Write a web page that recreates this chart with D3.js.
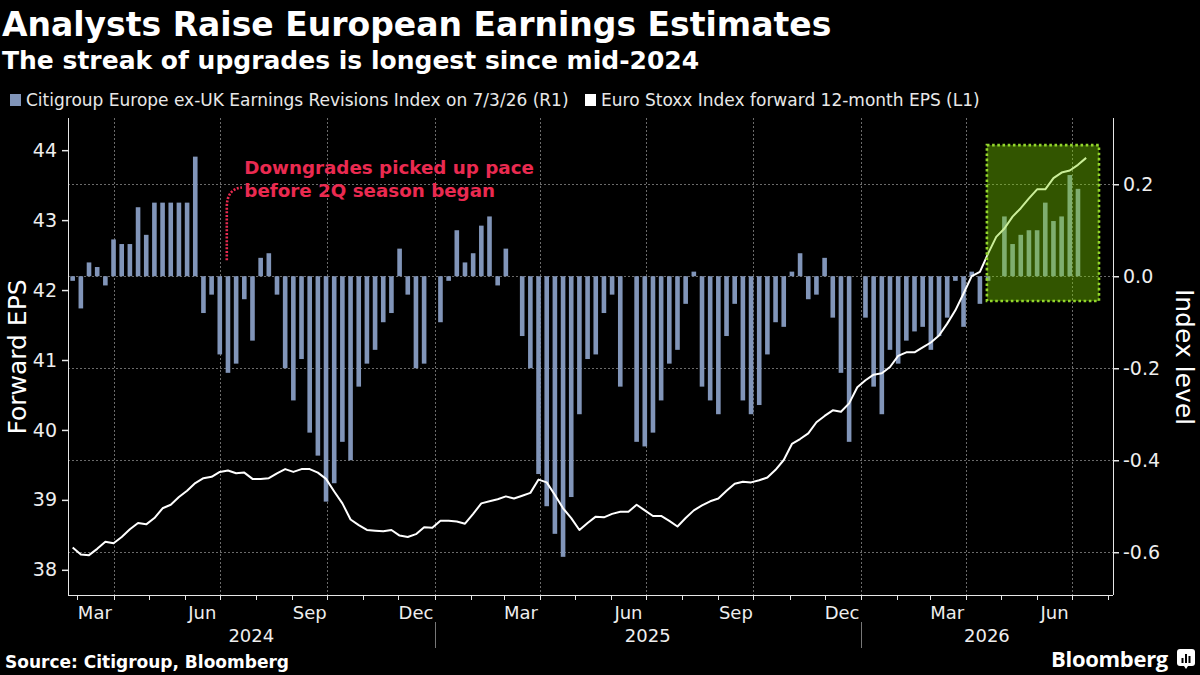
<!DOCTYPE html>
<html>
<head>
<meta charset="utf-8">
<style>
  body { margin: 0; background: #000; }
  svg { display: block; }
  text { font-family: "DejaVu Sans", sans-serif; fill: #fff; }
  .logo { font-family: "Open Sans", sans-serif; font-weight: 700; }
</style>
</head>
<body>
<script src="https://cdn.jsdelivr.net/npm/d3@7"></script>
<script>
// weekly observations, first week starting Monday 26 Feb 2024
var firstWeek = "2024-02-26";

// Citigroup Europe ex-UK Earnings Revisions Index (right axis)
var revisions = [
  -0.01, -0.07, 0.03, 0.02, -0.02, 0.08, 0.07, 0.07, 0.15, 0.09,
  0.16, 0.16, 0.16, 0.16, 0.16, 0.26, -0.08, -0.04, -0.17, -0.21,
  -0.19, -0.05, -0.14, 0.04, 0.05, -0.04, -0.20, -0.27, -0.18, -0.34,
  -0.39, -0.49, -0.45, -0.36, -0.40, -0.24, -0.19, -0.16, -0.10, -0.08,
  0.06, -0.04, -0.20, -0.19, null, -0.10, -0.01, 0.10, 0.03, 0.05,
  0.11, 0.13, -0.02, 0.06, null, -0.13, -0.20, -0.43, -0.50, -0.56,
  -0.61, -0.48, -0.30, -0.18, -0.17, -0.08, -0.04, -0.24, null, -0.36,
  -0.37, -0.34, -0.27, -0.19, -0.16, -0.06, 0.01, -0.24, -0.27, -0.30,
  -0.13, -0.06, -0.27, -0.30, -0.28, -0.17, -0.10, -0.11, 0.01, 0.05,
  -0.05, -0.04, 0.04, -0.09, -0.21, -0.36, null, -0.09, -0.24, -0.30,
  -0.16, -0.19, -0.14, -0.12, -0.11, -0.16, -0.13, -0.09, -0.01, -0.11,
  0.01, -0.06, -0.01, null, 0.13, 0.07, 0.09, 0.10, 0.10, 0.16,
  0.12, 0.13, 0.22, 0.19
];

// Euro Stoxx forward 12-month EPS (left axis)
var eps = [
  38.32, 38.22, 38.21, 38.30, 38.40, 38.38, 38.47, 38.58, 38.67, 38.65,
  38.74, 38.88, 38.93, 39.04, 39.13, 39.24, 39.31, 39.33, 39.40, 39.42,
  39.38, 39.39, 39.30, 39.30, 39.31, 39.38, 39.44, 39.40, 39.44, 39.44,
  39.39, 39.30, 39.12, 38.95, 38.72, 38.64, 38.57, 38.56, 38.55, 38.57,
  38.49, 38.47, 38.51, 38.61, 38.60, 38.70, 38.70, 38.69, 38.66, 38.80,
  38.95, 38.98, 39.01, 39.05, 39.02, 39.06, 39.10, 39.29, 39.25, 39.07,
  38.88, 38.74, 38.57, 38.67, 38.76, 38.75, 38.80, 38.83, 38.83, 38.93,
  38.85, 38.77, 38.77, 38.70, 38.62, 38.74, 38.85, 38.92, 38.98, 39.02,
  39.13, 39.23, 39.26, 39.25, 39.28, 39.32, 39.43, 39.57, 39.80, 39.87,
  39.95, 40.11, 40.20, 40.28, 40.26, 40.38, 40.61, 40.71, 40.79, 40.81,
  40.90, 41.06, 41.11, 41.11, 41.18, 41.25, 41.35, 41.52, 41.71, 41.95,
  42.20, 42.26, 42.52, 42.76, 42.88, 43.05, 43.17, 43.31, 43.44, 43.44,
  43.60, 43.68, 43.71, 43.79, 43.89
];

var leftTicks = [38, 39, 40, 41, 42, 43, 44];
var rightTicks = [-0.6, -0.4, -0.2, 0, 0.2];
var monthLabels = ["Mar", "Jun", "Sep", "Dec"];
var years = ["2024", "2025", "2026"];

var title = "Analysts Raise European Earnings Estimates";
var subtitle = "The streak of upgrades is longest since mid-2024";
var legendLabels = [
  "Citigroup Europe ex-UK Earnings Revisions Index on 7/3/26 (R1)",
  "Euro Stoxx Index forward 12-month EPS (L1)"
];
var note = ["Downgrades picked up pace", "before 2Q season began"];
var source = "Source: Citigroup, Bloomberg";

// highlighted stretch of upgrades
var highlight = { from: "2026-04-19", to: "2026-07-24", top: 0.285, bottom: -0.054 };

var width = 1200,
    height = 675;

var parse = d3.utcParse("%Y-%m-%d");
var start = parse(firstWeek);
var week = function(i) { return d3.utcDay.offset(start, 7 * i); };

var barColor = "#8195b9",
    gridColor = "#6a6a6a",
    axisColor = "#e6e6e6",
    noteColor = "#ea2a50";

var plot = { left: 68, right: 1113, top: 118, bottom: 595 };

var x = d3.scaleUtc()
    .domain([parse("2024-02-22"), parse("2026-08-05")])
    .range([plot.left, plot.right]);

var yL = d3.scaleLinear()
    .domain([37.64, 44.46])
    .range([plot.bottom, plot.top]);

var yR = d3.scaleLinear()
    .domain([-0.693, 0.344])
    .range([plot.bottom, plot.top]);

var svg = d3.select("body").append("svg")
    .attr("width", width)
    .attr("height", height)
    .style("background", "#000");

// titles
svg.append("text")
    .attr("x", 2).attr("y", 36)
    .style("font-size", "33px").style("font-weight", 700)
    .text(title);

svg.append("text")
    .attr("x", 2).attr("y", 69)
    .style("font-size", "25px").style("font-weight", 700)
    .text(subtitle);

// legend
var legendX = [10, 585];
var legendColors = [barColor, "#ffffff"];
var legend = svg.append("g").selectAll("g")
    .data(legendLabels)
  .enter().append("g")
    .attr("transform", function(d, i) { return "translate(" + legendX[i] + ",94)"; });

legend.append("rect")
    .attr("width", 11).attr("height", 12)
    .attr("fill", function(d, i) { return legendColors[i]; });

legend.append("text")
    .attr("x", 16).attr("y", 12)
    .style("font-size", "17px")
    .style("fill", "#e8e8e8")
    .text(function(d) { return d; });

// grid
var grid = svg.append("g")
    .attr("stroke", gridColor)
    .attr("stroke-width", 1)
    .attr("stroke-dasharray", "2,2");

grid.selectAll("line.h")
    .data(rightTicks)
  .enter().append("line")
    .attr("class", "h")
    .attr("x1", plot.left).attr("x2", plot.right)
    .attr("y1", function(d) { return Math.round(yR(d)) + 0.5; })
    .attr("y2", function(d) { return Math.round(yR(d)) + 0.5; });

var quarters = d3.utcMonth.every(3).range(parse("2024-03-01"), x.domain()[1]);
grid.selectAll("line.v")
    .data(quarters)
  .enter().append("line")
    .attr("class", "v")
    .attr("x1", function(d) { return Math.round(x(d)) + 0.5; })
    .attr("x2", function(d) { return Math.round(x(d)) + 0.5; })
    .attr("y1", plot.top).attr("y2", plot.bottom);

// revision bars
var bars = revisions
    .map(function(v, i) { return { date: week(i), value: v }; })
    .filter(function(d) { return d.value !== null; });

svg.append("g").selectAll("rect")
    .data(bars)
  .enter().append("rect")
    .attr("x", function(d) { return x(d.date) - 2.3; })
    .attr("width", 4.6)
    .attr("y", function(d) { return yR(Math.max(0, d.value)); })
    .attr("height", function(d) { return Math.abs(yR(d.value) - yR(0)); })
    .attr("fill", barColor);

// EPS line
var epsData = eps.map(function(v, i) { return { date: week(i), value: v }; });

svg.append("path")
    .datum(epsData)
    .attr("fill", "none")
    .attr("stroke", "#fff")
    .attr("stroke-width", 2)
    .attr("stroke-linejoin", "round")
    .attr("d", d3.line()
      .x(function(d) { return x(d.date); })
      .y(function(d) { return yL(d.value); }));

// highlight box
var hx0 = x(parse(highlight.from)), hx1 = x(parse(highlight.to));
var hy0 = yR(highlight.top), hy1 = yR(highlight.bottom);

svg.append("rect")
    .attr("x", hx0).attr("y", hy0)
    .attr("width", hx1 - hx0).attr("height", hy1 - hy0)
    .attr("fill", "rgb(125,212,0)")
    .attr("fill-opacity", 0.4);

svg.append("rect")
    .attr("x", hx0).attr("y", hy0)
    .attr("width", hx1 - hx0).attr("height", hy1 - hy0)
    .attr("fill", "none")
    .attr("stroke", "#93d62c")
    .attr("stroke-width", 2.6)
    .attr("stroke-dasharray", "2.6,2.6");

// annotation
var ax = x(parse("2024-07-07")), ax2 = x(parse("2024-07-20"));
var p = d3.path();
p.moveTo(ax, yR(0.035));
p.lineTo(ax, yR(0.15));
p.quadraticCurveTo(ax, yR(0.19), ax2, yR(0.193));

svg.append("path")
    .attr("d", p.toString())
    .attr("fill", "none")
    .attr("stroke", noteColor)
    .attr("stroke-width", 2.6)
    .attr("stroke-dasharray", "2,1.6");

svg.append("g").selectAll("text")
    .data(note)
  .enter().append("text")
    .attr("x", x(parse("2024-07-22")))
    .attr("y", function(d, i) { return 174 + i * 23; })
    .style("font-size", "18.3px")
    .style("font-weight", 700)
    .style("fill", noteColor)
    .text(function(d) { return d; });

// left axis
var gl = svg.append("g")
    .attr("transform", "translate(" + plot.left + ",0)")
    .call(d3.axisLeft(yL).tickValues(d3.range(38, 44.6, 0.5)).tickSize(4).tickFormat(""));
gl.call(d3.axisLeft(yL).tickValues(leftTicks).tickSize(6).tickPadding(5).tickFormat(d3.format("d")));
gl.selectAll(".domain").remove();
gl.selectAll("line").attr("stroke", axisColor).attr("stroke-width", 1.5);
gl.selectAll("text").style("font-size", "19px").style("fill", "#eee").attr("font-family", null);

svg.append("line")
    .attr("x1", plot.left + 0.5).attr("x2", plot.left + 0.5)
    .attr("y1", plot.top).attr("y2", plot.bottom)
    .attr("stroke", axisColor);

// right axis
var gr = svg.append("g")
    .attr("transform", "translate(" + plot.right + ",0)")
    .call(d3.axisRight(yR).tickValues(d3.range(-0.6, 0.35, 0.1)).tickSize(4).tickFormat(""));
gr.call(d3.axisRight(yR).tickValues(rightTicks).tickSize(6).tickPadding(4)
    .tickFormat(function(d) { return d3.format(".1f")(d).replace("−", "-"); }));
gr.selectAll(".domain").remove();
gr.selectAll("line").attr("stroke", axisColor).attr("stroke-width", 1.5);
gr.selectAll("text").style("font-size", "19px").style("fill", "#eee").attr("font-family", null);

svg.append("line")
    .attr("x1", plot.right + 0.5).attr("x2", plot.right + 0.5)
    .attr("y1", plot.top).attr("y2", plot.bottom)
    .attr("stroke", axisColor);

// axis titles
svg.append("text")
    .attr("transform", "translate(26,357) rotate(-90)")
    .attr("text-anchor", "middle")
    .style("font-size", "25px")
    .text("Forward EPS");

svg.append("text")
    .attr("transform", "translate(1176,357) rotate(90)")
    .attr("text-anchor", "middle")
    .style("font-size", "25px")
    .text("Index level");

// x axis
svg.append("line")
    .attr("x1", plot.left).attr("x2", plot.right)
    .attr("y1", plot.bottom + 0.5).attr("y2", plot.bottom + 0.5)
    .attr("stroke", axisColor);

var months = d3.utcMonth.range(parse("2024-03-01"), x.domain()[1]);
svg.append("g").selectAll("line")
    .data(months)
  .enter().append("line")
    .attr("x1", function(d) { return Math.round(x(d)) + 0.5; })
    .attr("x2", function(d) { return Math.round(x(d)) + 0.5; })
    .attr("y1", plot.bottom).attr("y2", plot.bottom + 5)
    .attr("stroke", axisColor);

var labelled = months.filter(function(d) { return d.getUTCMonth() % 3 === 2; });
svg.append("g").selectAll("text")
    .data(labelled)
  .enter().append("text")
    .attr("x", function(d) { return x(d3.utcDay.offset(d, 15)); })
    .attr("y", 619)
    .attr("text-anchor", "middle")
    .style("font-size", "18px")
    .style("fill", "#eee")
    .text(function(d) { return monthLabels[(d.getUTCMonth() - 2) / 3]; });

var yearStarts = years.map(function(y) { return parse(y + "-01-01"); });
svg.append("g").selectAll("line")
    .data(yearStarts.slice(1))
  .enter().append("line")
    .attr("x1", function(d) { return Math.round(x(d)) + 0.5; })
    .attr("x2", function(d) { return Math.round(x(d)) + 0.5; })
    .attr("y1", 622).attr("y2", 648)
    .attr("stroke", "#777");

svg.append("g").selectAll("text")
    .data(years)
  .enter().append("text")
    .attr("x", function(d, i) {
      var a = Math.max(plot.left, x(yearStarts[i]));
      var b = i + 1 < years.length ? x(yearStarts[i + 1]) : plot.right;
      return (a + b) / 2;
    })
    .attr("y", 642)
    .attr("text-anchor", "middle")
    .style("font-size", "18px")
    .style("fill", "#eee")
    .text(function(d) { return d; });

// footer
svg.append("text")
    .attr("x", 5).attr("y", 668)
    .style("font-size", "17px").style("font-weight", 700)
    .text(source);

svg.append("text")
    .attr("class", "logo")
    .attr("x", 1168).attr("y", 667)
    .attr("text-anchor", "end")
    .style("font-size", "22px")
    .style("letter-spacing", "-0.3px")
    .text("Bloomberg");

var logo = svg.append("g").attr("transform", "translate(1177,649)");
logo.append("rect")
    .attr("width", 18).attr("height", 17).attr("rx", 3)
    .attr("fill", "#fff");
logo.append("path")
    .attr("d", "M7,17 L9,20 L11,17 Z")
    .attr("fill", "#fff");
logo.selectAll("rect.b")
    .data([5, 9, 7])
  .enter().append("rect")
    .attr("class", "b")
    .attr("x", function(d, i) { return 4.5 + i * 3.5; })
    .attr("y", function(d) { return 14 - d; })
    .attr("width", 2).attr("height", function(d) { return d; })
    .attr("fill", "#000");
</script>
</body>
</html>
